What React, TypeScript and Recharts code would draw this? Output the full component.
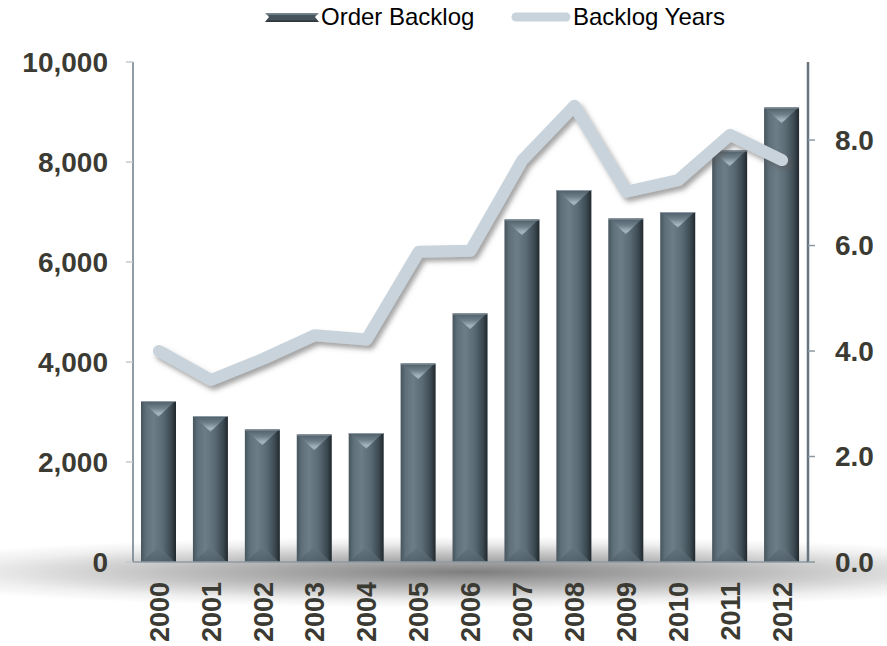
import React from 'react';
import { ComposedChart, Bar, Line, XAxis, YAxis } from 'recharts';

// Order backlog (left axis) and backlog expressed in years (right axis)
const years = ['2000', '2001', '2002', '2003', '2004', '2005', '2006', '2007', '2008', '2009', '2010', '2011', '2012'];
const orderBacklog = [3220, 2920, 2650, 2550, 2580, 3970, 4970, 6850, 7440, 6870, 7000, 8230, 9090];
const backlogYears = [4.0, 3.45, 3.85, 4.3, 4.22, 5.88, 5.9, 7.62, 8.65, 7.02, 7.24, 8.1, 7.62];
const leftTicks = [0, 2000, 4000, 6000, 8000, 10000];
const rightTicks = [0, 2, 4, 6, 8];
const seriesNames = ['Order Backlog', 'Backlog Years'];

const data = years.map((year, i) => ({
  year,
  backlog: orderBacklog[i],
  years: backlogYears[i],
}));

const FONT = '"Liberation Sans", Arial, sans-serif';
const LABEL_COLOR = '#3b3b33';
const LINE_COLOR = '#c8d3db';

// Bevelled column: shaded body with a light chevron on top and a subtle one at the base
const BevelBar = (props: any) => {
  const { x, y, width, height, index } = props;
  if (!height || height <= 0) return null;
  const bevel = Math.min(width * 0.45, height / 2);
  const bodyId = `barBody${index}`;
  const topId = `barTop${index}`;
  const botId = `barBot${index}`;
  return (
    <g>
      <defs>
        <linearGradient id={bodyId} x1="0" y1="0" x2="1" y2="0">
          <stop offset="0%" stopColor="#46545d" />
          <stop offset="14%" stopColor="#5f707a" />
          <stop offset="36%" stopColor="#6c7d88" />
          <stop offset="62%" stopColor="#5b6b75" />
          <stop offset="86%" stopColor="#3c4951" />
          <stop offset="100%" stopColor="#20282d" />
        </linearGradient>
        <linearGradient id={topId} x1="0" y1="0" x2="0" y2="1">
          <stop offset="0%" stopColor="#4f5e68" />
          <stop offset="45%" stopColor="#6f808a" />
          <stop offset="80%" stopColor="#a6b6c0" />
          <stop offset="100%" stopColor="#8fa0aa" />
        </linearGradient>
        <linearGradient id={botId} x1="0" y1="1" x2="0" y2="0">
          <stop offset="0%" stopColor="#4f5e68" />
          <stop offset="100%" stopColor="#66767f" />
        </linearGradient>
      </defs>
      <rect x={x} y={y} width={width} height={height} fill={`url(#${bodyId})`} />
      <polygon
        points={`${x + 1},${y} ${x + width - 1},${y} ${x + width / 2},${y + bevel}`}
        fill={`url(#${topId})`}
      />
      <polygon
        points={`${x + 1},${y + height} ${x + width - 1},${y + height} ${x + width / 2},${y + height - bevel}`}
        fill={`url(#${botId})`}
        opacity={0.8}
      />
      <rect x={x} y={y} width={width} height={1} fill="#8d9ca6" />
    </g>
  );
};

const YearTick = (props: any) => {
  const { x, y, payload } = props;
  return (
    <text
      x={x}
      y={y}
      transform={`rotate(-90, ${x}, ${y})`}
      textAnchor="end"
      dy="0.36em"
      fontFamily={FONT}
      fontWeight="bold"
      fontSize={27}
      fill={LABEL_COLOR}
    >
      {payload.value}
    </text>
  );
};

const tickStyle = { fontFamily: FONT, fontWeight: 'bold' as const, fontSize: 28, fill: LABEL_COLOR };

export default function App() {
  return (
    <div style={{ position: 'absolute', left: 0, top: 0, width: 887, height: 646, background: '#fff', overflow: 'hidden' }}>
      {/* soft floor shadow under the plot */}
      <div
        style={{
          position: 'absolute',
          left: 0,
          top: 0,
          width: 887,
          height: 646,
          background:
            'radial-gradient(ellipse 620px 36px at 470px 572px, rgba(40,40,40,0.6) 0%, rgba(60,60,60,0.35) 45%, rgba(90,90,90,0.1) 80%, rgba(90,90,90,0) 100%)',
        }}
      />
      <svg width={0} height={0} style={{ position: 'absolute' }}>
        <defs>
          <filter id="lineShadow" x="-10%" y="-20%" width="120%" height="140%">
            <feDropShadow dx="3" dy="4" stdDeviation="2.5" floodColor="#5a5a5a" floodOpacity="0.55" />
          </filter>
        </defs>
      </svg>

      {/* legend */}
      <div style={{ position: 'absolute', left: 0, top: 0, width: 887, height: 40, fontFamily: FONT, fontSize: 24, color: '#000' }}>
        <svg width={54} height={12} style={{ position: 'absolute', left: 265, top: 12 }}>
          <defs>
            <linearGradient id="legendBar" x1="0" y1="0" x2="0" y2="1">
              <stop offset="0%" stopColor="#7d8d97" />
              <stop offset="45%" stopColor="#4f5e68" />
              <stop offset="100%" stopColor="#2a3338" />
            </linearGradient>
          </defs>
          <polygon points="0,1 54,1 50,5 54,10 0,10 4,5" fill="url(#legendBar)" />
          <rect x={4} y={3} width={46} height={5} fill="#46545d" />
        </svg>
        <span style={{ position: 'absolute', left: 321, top: 3, lineHeight: '28px' }}>{seriesNames[0]}</span>
        <svg width={62} height={14} style={{ position: 'absolute', left: 510, top: 10 }}>
          <line x1={6} y1={7} x2={56} y2={7} stroke={LINE_COLOR} strokeWidth={9} strokeLinecap="round" />
        </svg>
        <span style={{ position: 'absolute', left: 573, top: 3, lineHeight: '28px' }}>{seriesNames[1]}</span>
      </div>

      <div style={{ position: 'absolute', left: 0, top: 0 }}>
        <ComposedChart width={887} height={646} data={data} margin={{ top: 62, right: 0, bottom: 0, left: 0 }}>
          <XAxis
            dataKey="year"
            height={84}
            tick={<YearTick />}
            tickLine={false}
            tickSize={0}
            tickMargin={20}
            interval={0}
            axisLine={{ stroke: '#8d9aa2', strokeWidth: 1.5 }}
          />
          <YAxis
            yAxisId="left"
            orientation="left"
            width={133}
            domain={[0, 10000]}
            ticks={leftTicks}
            tickFormatter={(v: number) => v.toLocaleString('en-US')}
            tick={tickStyle}
            tickSize={7}
            tickMargin={18}
            tickLine={{ stroke: '#c3cacf', strokeWidth: 1.5 }}
            axisLine={{ stroke: '#6d7d88', strokeWidth: 1.5 }}
            interval={0}
          />
          <YAxis
            yAxisId="right"
            orientation="right"
            width={79}
            domain={[0, 9.48]}
            ticks={rightTicks}
            tickFormatter={(v: number) => v.toFixed(1)}
            tick={{ ...tickStyle, textAnchor: 'start' }}
            tickSize={7}
            tickMargin={20}
            tickLine={{ stroke: '#8a98a1', strokeWidth: 1.5 }}
            axisLine={{ stroke: '#66757f', strokeWidth: 2.5 }}
            interval={0}
            allowDataOverflow
          />
          <Bar yAxisId="left" dataKey="backlog" name={seriesNames[0]} barSize={35} shape={<BevelBar />} isAnimationActive={false} />
          <Line
            yAxisId="right"
            type="linear"
            dataKey="years"
            name={seriesNames[1]}
            stroke={LINE_COLOR}
            strokeWidth={12}
            strokeLinecap="round"
            strokeLinejoin="round"
            dot={false}
            activeDot={false}
            filter="url(#lineShadow)"
            isAnimationActive={false}
          />
        </ComposedChart>
      </div>
    </div>
  );
}
